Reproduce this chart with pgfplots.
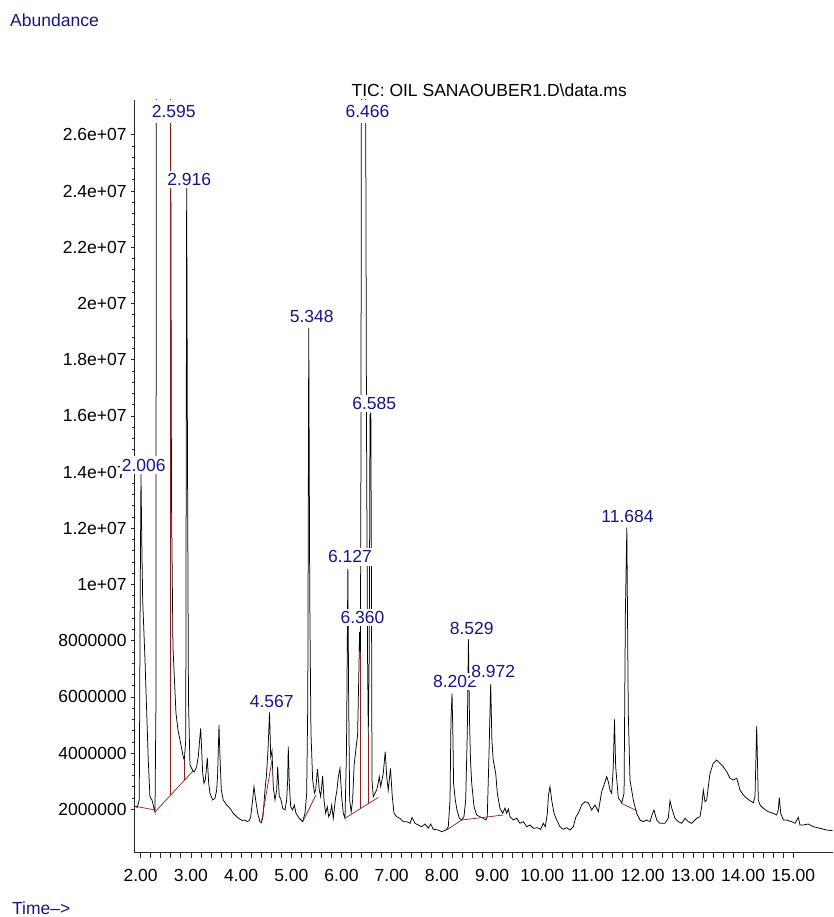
\documentclass[border=0pt]{standalone}
\usepackage{fontspec}
\setmainfont{Liberation Sans}
\usepackage{pgfplots}
\pgfplotsset{compat=1.18}
\definecolor{navy}{RGB}{22,22,138}
\definecolor{intred}{RGB}{145,28,28}
\newcommand\lab{\fontsize{17.5pt}{20pt}\selectfont}
\begin{document}
\begin{tikzpicture}
\useasboundingbox (0,0) rectangle (833pt,917pt);
\begin{axis}[at={(134pt,64.7pt)}, anchor=south west, scale only axis,
  width=698.7pt, height=752.3pt,
  xmin=1.867, xmax=15.785, ymin=0.47, ymax=27.24,
  axis x line*=bottom, axis y line*=left,
  axis line style={black!85, line width=0.8pt},
  xtick={2,...,15},
  xticklabels={2.00,3.00,4.00,5.00,6.00,7.00,8.00,9.00,10.00,11.00,12.00,13.00,14.00,15.00},
  ytick={2,4,...,26},
  yticklabels={2000000,4000000,6000000,8000000,1e+07,1.2e+07,1.4e+07,1.6e+07,1.8e+07,2e+07,2.2e+07,2.4e+07,2.6e+07},
  minor x tick num=4, minor y tick num=4,
  tick align=outside,
  xtick style={black!85, line width=0.7pt, /pgfplots/major tick length=6pt, /pgfplots/minor tick length=6pt},
  ytick style={black!85, line width=0.7pt, /pgfplots/major tick length=3pt, /pgfplots/minor tick length=2pt},
  tick label style={font=\lab, text=black, inner sep=0pt},
  xticklabel style={anchor=north, yshift=-12.5pt},
  yticklabel style={anchor=east, xshift=-3pt},
]
\addplot[black, line width=0.75pt] coordinates {
(1.867,2.117)(1.932,2.071)(1.972,2.331)(1.990,9.448)(2.006,13.93)(2.022,11.58)(2.040,9.448)(2.086,7.313)
(2.151,3.754)(2.185,2.438)(2.225,2.331)(2.285,1.904)(2.305,5.890)(2.311,30)(2.594,30)(2.614,13.01)
(2.643,7.776)(2.703,5.427)(2.743,4.822)(2.783,4.466)(2.849,3.861)(2.869,3.754)(2.898,4.466)(2.916,24.11)
(2.932,14.79)(2.952,5.890)(2.982,3.577)(3.042,3.363)(3.068,3.338)(3.116,3.516)(3.147,3.872)(3.175,4.466)
(3.195,4.883)(3.215,4.110)(3.235,3.292)(3.261,2.925)(3.287,3.043)(3.307,3.399)(3.327,3.836)(3.355,2.925)
(3.380,2.569)(3.434,2.331)(3.480,2.391)(3.514,2.687)(3.534,3.292)(3.560,5.000)(3.580,3.872)(3.606,2.687)
(3.645,2.331)(3.713,2.153)(3.779,2.036)(3.845,1.858)(3.912,1.737)(3.978,1.644)(4.028,1.601)(4.078,1.619)
(4.118,1.566)(4.163,1.594)(4.191,1.737)(4.223,2.214)(4.257,2.804)(4.291,2.331)(4.331,1.858)(4.376,1.559)
(4.406,1.523)(4.436,1.737)(4.476,2.687)(4.506,3.221)(4.536,4.110)(4.567,5.445)(4.590,3.861)(4.616,4.085)
(4.641,2.804)(4.675,2.331)(4.709,2.687)(4.729,3.516)(4.761,2.448)(4.789,2.391)(4.829,2.036)(4.875,1.975)
(4.908,2.331)(4.928,3.043)(4.940,4.228)(4.960,2.936)(4.988,2.093)(5.028,1.975)(5.060,2.153)(5.094,1.858)
(5.159,1.680)(5.227,1.559)(5.273,1.858)(5.307,2.569)(5.329,5.890)(5.348,19.13)(5.368,9.448)(5.392,4.715)
(5.426,3.043)(5.462,2.580)(5.486,2.687)(5.522,3.434)(5.558,2.687)(5.586,2.448)(5.625,3.185)(5.651,2.331)
(5.685,1.858)(5.717,2.093)(5.745,1.737)(5.777,1.858)(5.805,2.153)(5.837,1.680)(5.876,2.331)(5.910,2.687)
(5.936,3.149)(5.970,3.459)(6.004,2.448)(6.036,1.858)(6.070,1.680)(6.100,4.110)(6.127,10.55)(6.143,5.890)
(6.163,2.331)(6.193,1.904)(6.222,2.331)(6.252,3.577)(6.292,4.217)(6.321,4.644)(6.351,7.313)(6.360,8.310)
(6.377,7.598)(6.388,14.79)(6.398,30)(6.478,30)(6.498,15.85)(6.518,7.669)(6.534,4.715)(6.554,7.669)
(6.568,16.03)(6.585,16.10)(6.598,9.448)(6.608,3.043)(6.633,2.448)(6.701,2.687)(6.733,2.936)(6.753,3.160)
(6.781,2.804)(6.833,3.292)(6.871,4.050)(6.901,3.160)(6.932,2.687)(6.976,3.459)(7.012,2.448)(7.046,1.858)
(7.100,1.737)(7.165,1.680)(7.231,1.559)(7.299,1.559)(7.365,1.502)(7.405,1.708)(7.464,1.502)(7.530,1.441)
(7.598,1.381)(7.663,1.477)(7.729,1.324)(7.777,1.477)(7.829,1.288)(7.928,1.263)(7.996,1.203)(8.082,1.263)
(8.128,1.381)(8.162,2.331)(8.181,5.178)(8.202,6.128)(8.221,4.466)(8.233,2.925)(8.267,2.331)(8.301,1.975)
(8.347,1.680)(8.394,1.619)(8.440,1.737)(8.474,2.331)(8.506,4.715)(8.529,8.043)(8.550,5.178)(8.570,3.754)
(8.594,2.925)(8.640,2.093)(8.693,1.797)(8.759,1.737)(8.825,1.680)(8.879,1.619)(8.904,1.737)(8.932,3.516)
(8.972,6.459)(8.996,4.466)(9.022,3.754)(9.072,3.281)(9.104,2.569)(9.157,2.036)(9.211,1.858)(9.257,2.046)
(9.291,1.858)(9.323,2.011)(9.357,1.737)(9.422,1.619)(9.490,1.680)(9.556,1.502)(9.622,1.559)(9.689,1.381)
(9.755,1.441)(9.821,1.324)(9.900,1.345)(9.968,1.288)(10.020,1.502)(10.060,1.381)(10.100,1.858)(10.124,2.509)
(10.153,2.804)(10.187,2.331)(10.233,1.858)(10.287,1.619)(10.353,1.381)(10.418,1.288)(10.486,1.345)(10.552,1.263)
(10.618,1.381)(10.671,1.737)(10.717,1.858)(10.785,2.153)(10.851,2.270)(10.916,2.235)(10.984,1.975)(11.050,2.153)
(11.116,1.915)(11.183,2.626)(11.229,2.865)(11.283,3.160)(11.315,2.982)(11.349,2.687)(11.382,2.569)(11.414,3.516)
(11.438,5.196)(11.462,3.516)(11.514,2.402)(11.584,2.235)(11.629,2.569)(11.655,8.986)(11.684,12.02)(11.713,5.416)
(11.747,3.043)(11.813,2.331)(11.880,1.858)(11.946,1.619)(12.012,1.559)(12.080,1.619)(12.145,1.559)(12.185,1.797)
(12.225,1.975)(12.279,1.619)(12.345,1.502)(12.444,1.502)(12.510,1.690)(12.544,2.306)(12.578,2.046)(12.643,1.680)
(12.709,1.559)(12.777,1.502)(12.843,1.680)(12.908,1.559)(12.976,1.502)(13.076,1.680)(13.141,1.737)(13.175,2.093)
(13.207,2.687)(13.241,2.270)(13.275,2.331)(13.307,2.804)(13.341,3.281)(13.406,3.637)(13.474,3.754)(13.540,3.637)
(13.606,3.516)(13.673,3.338)(13.739,3.103)(13.805,3.043)(13.873,3.103)(13.904,2.925)(13.938,2.687)(14.004,2.509)
(14.072,2.391)(14.137,2.306)(14.203,2.235)(14.237,2.448)(14.271,4.964)(14.303,2.331)(14.337,2.153)(14.402,2.036)
(14.502,1.915)(14.602,1.858)(14.669,1.797)(14.701,1.975)(14.721,2.427)(14.749,1.858)(14.801,1.619)(14.869,1.619)
(14.968,1.559)(15.034,1.502)(15.100,1.715)(15.133,1.441)(15.199,1.441)(15.299,1.477)(15.398,1.381)(15.532,1.324)
(15.665,1.263)(15.785,1.238)
};
% integration baselines and drop lines
\addplot[intred, line width=0.7pt] coordinates {(1.867,2.117)(2.285,1.975)};
\addplot[intred, line width=0.7pt] coordinates {(2.285,1.904)(3.042,3.363)};
\addplot[intred, line width=1.1pt] coordinates {(2.594,2.498)(2.594,26.5)};
\addplot[intred, line width=0.7pt] coordinates {(2.869,3.028)(2.869,3.754)};
\addplot[intred, line width=0.7pt] coordinates {(4.406,1.548)(4.616,3.754)};
\addplot[intred, line width=0.7pt] coordinates {(5.227,1.559)(5.492,2.509)};
\addplot[intred, line width=0.7pt] coordinates {(6.070,1.680)(6.737,2.427)};
\addplot[intred, line width=0.7pt] coordinates {(6.377,2.025)(6.377,7.598)};
\addplot[intred, line width=0.7pt] coordinates {(6.534,2.203)(6.534,4.715)};
\addplot[intred, line width=0.7pt] coordinates {(8.096,1.263)(8.394,1.619)(9.223,1.797)};
\addplot[intred, line width=0.7pt] coordinates {(11.574,2.214)(11.892,1.940)};
% label anchors
\coordinate (l2006) at (axis cs:2.062,14.25);
\coordinate (l2595) at (axis cs:2.659,26.83);
\coordinate (l2916) at (axis cs:2.966,24.41);
\coordinate (l4567) at (axis cs:4.610,5.829);
\coordinate (l5348) at (axis cs:5.406,19.54);
\coordinate (l6127) at (axis cs:6.169,10.98);
\coordinate (l6360) at (axis cs:6.418,8.826);
\coordinate (l6466) at (axis cs:6.518,26.83);
\coordinate (l6585) at (axis cs:6.651,16.45);
\coordinate (l8202) at (axis cs:8.261,6.541);
\coordinate (l8529) at (axis cs:8.594,8.441);
\coordinate (l8972) at (axis cs:9.024,6.897);
\coordinate (l11684) at (axis cs:11.697,12.41);
\end{axis}
\tikzset{pk/.style={fill=white, text=navy, font=\lab, inner xsep=1.5pt, inner ysep=2.5pt}}
\node[pk] at (l2006) {2.006};
\node[pk, inner ysep=5pt] at (l2595) {2.595};
\node[pk] at (l2916) {2.916};
\node[pk] at (l4567) {4.567};
\node[pk] at (l5348) {5.348};
\node[pk] at (l6127) {6.127};
\node[pk] at (l6360) {6.360};
\node[pk, inner ysep=5pt] at (l6466) {6.466};
\node[pk] at (l6585) {6.585};
\node[pk] at (l8202) {8.202};
\node[pk] at (l8529) {8.529};
\node[pk] at (l8972) {8.972};
\node[pk] at (l11684) {11.684};
\node[anchor=center, font=\lab, text=black] at (489.2pt,827pt) {TIC: OIL SANAOUBER1.D\textbackslash data.ms};
\node[anchor=west, font=\lab, text=navy, inner sep=0pt] at (10pt,897pt) {Abundance};
\node[anchor=west, font=\lab, text=navy, inner sep=0pt] at (12pt,9pt) {Time\textendash>};
\end{tikzpicture}
\end{document}
